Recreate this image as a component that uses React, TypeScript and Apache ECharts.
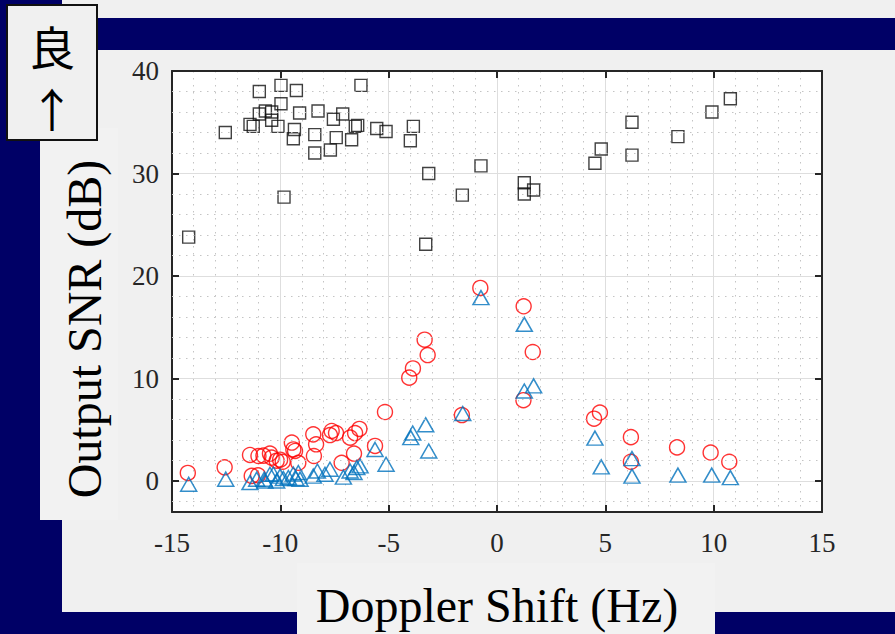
import React, { useEffect, useRef } from "react";
import * as echarts from "echarts";

// ---- data ----
const squareX = [-14.23, -12.54, -11.4, -11.25, -10.97, -10.97, -10.69, -10.4, -10.4, -10.11, -9.97, -9.97, -9.83, -9.4, -9.35, -9.26, -9.11, -8.41, -8.41, -8.26, -7.69, -7.55, -7.42, -7.12, -6.71, -6.54, -6.43, -6.28, -5.55, -5.12, -4.0, -3.86, -3.29, -3.15, -1.6, -0.74, 1.26, 1.26, 1.69, 4.52, 4.81, 6.23, 6.23, 8.35, 9.92, 10.77];
const squareY = [23.8, 34.0, 34.8, 34.6, 38.0, 35.8, 36.1, 36.0, 35.2, 34.6, 38.6, 36.8, 27.7, 33.4, 34.3, 38.1, 35.9, 33.8, 32.0, 36.1, 32.3, 35.3, 33.5, 35.8, 33.3, 34.6, 34.7, 38.6, 34.4, 34.1, 33.2, 34.6, 23.1, 30.0, 27.9, 30.75, 29.1, 28.0, 28.4, 31.0, 32.4, 35.0, 31.8, 33.6, 36.0, 37.3];

const circleX = [-14.27, -12.57, -11.4, -11.32, -11.01, -11.03, -10.78, -10.48, -10.4, -10.17, -10.01, -9.89, -9.47, -9.4, -9.32, -9.17, -8.48, -8.35, -8.45, -7.71, -7.63, -7.43, -7.17, -6.78, -6.6, -6.55, -6.35, -5.63, -5.17, -4.05, -3.88, -3.34, -3.2, -1.62, -0.77, 1.23, 1.22, 1.65, 4.48, 4.75, 6.18, 6.18, 8.31, 9.86, 10.72];
const circleY = [0.81, 1.36, 2.56, 0.52, 2.46, 0.58, 2.5, 2.7, 2.3, 2.0, 2.1, 1.9, 3.77, 3.1, 2.95, 1.8, 4.57, 3.6, 2.46, 4.5, 4.9, 4.7, 1.8, 4.25, 2.7, 4.7, 5.1, 3.44, 6.75, 10.1, 11.0, 13.8, 12.3, 6.45, 18.85, 17.06, 7.9, 12.6, 6.1, 6.7, 4.3, 1.9, 3.3, 2.8, 1.9];

const triangleX = [-14.23, -12.52, -11.4, -11.09, -10.74, -10.71, -10.48, -10.32, -10.17, -10.01, -9.86, -9.63, -9.4, -9.28, -9.17, -9.09, -8.48, -8.29, -7.94, -7.71, -7.09, -6.78, -6.6, -6.47, -6.32, -5.63, -5.12, -3.98, -3.89, -3.29, -3.15, -1.58, -0.74, 1.26, 1.26, 1.69, 4.52, 4.81, 6.23, 6.23, 8.35, 9.91, 10.77];
const triangleY = [-0.3, 0.2, -0.13, 0.2, 0.2, 0.03, 0.68, 0.7, 0.03, 0.5, 0.27, 0.36, 0.7, 0.27, 0.85, 0.2, 0.5, 1.0, 0.68, 1.17, 0.4, 1.0, 0.85, 1.33, 1.5, 3.1, 1.65, 4.25, 4.7, 5.5, 2.95, 6.6, 17.9, 15.3, 8.8, 9.3, 4.2, 1.4, 2.2, 0.5, 0.6, 0.6, 0.35];

const xRange = [-15, 15];
const yRange = [-3, 40];
const yMajorTicks = [0, 10, 20, 30, 40];
const yMinorGrid = [-2, 2, 4, 6, 8, 12, 14, 16, 18, 22, 24, 26, 28, 32, 34, 36, 38];

const xTitle = "Doppler Shift (Hz)";
const yTitle = "Output SNR (dB)";
const badgeTop = "良";
const badgeArrow = "↑";

const NAVY = "#000066";
const GRAY = "#f0f0f0";
const PANEL = "#f2f2f2";
const INK = "#262626";
const SERIF = '"Liberation Serif", "Times New Roman", serif';

const zip = (xs: number[], ys: number[]) => xs.map((x, i) => [x, ys[i]]);

export default function App() {
  const ref = useRef<HTMLDivElement>(null);

  useEffect(() => {
    document.body.style.margin = "0";
    if (!ref.current) return;
    const chart = echarts.init(ref.current, null, { renderer: "svg" });

    const tickCommon = {
      show: true,
      inside: true,
      length: 7,
      lineStyle: { color: INK, width: 2 },
    };
    const lineCommon = { show: true, onZero: false, lineStyle: { color: INK, width: 2 } };

    const option: any = {
      animation: false,
      backgroundColor: NAVY,
      grid: {
        left: 172,
        top: 71,
        width: 650,
        height: 441,
        show: true,
        backgroundColor: "#ffffff",
        borderWidth: 0,
      },
      xAxis: [
        {
          type: "value",
          position: "bottom",
          min: xRange[0],
          max: xRange[1],
          interval: 5,
          axisLine: lineCommon,
          axisTick: tickCommon,
          axisLabel: {
            color: INK,
            fontFamily: SERIF,
            fontSize: 27,
            margin: 17,
          },
          splitLine: { show: true, lineStyle: { color: "#dedede", width: 1 } },
          minorTick: { show: false, splitNumber: 5 },
          minorSplitLine: { show: true, lineStyle: { color: "#c4c4c4", width: 1, type: [1.5, 5.5] } },
        },
        {
          type: "value",
          position: "top",
          min: xRange[0],
          max: xRange[1],
          interval: 5,
          axisLine: lineCommon,
          axisTick: tickCommon,
          axisLabel: { show: false },
          splitLine: { show: false },
        },
      ],
      yAxis: [
        {
          type: "value",
          position: "left",
          min: yRange[0],
          max: yRange[1],
          splitNumber: 5,
          axisLine: lineCommon,
          axisTick: tickCommon,
          axisLabel: {
            color: INK,
            fontFamily: SERIF,
            fontSize: 27,
            margin: 13,
            formatter: (v: number) => (yMajorTicks.includes(v) ? String(v) : ""),
          },
          splitLine: { show: true, lineStyle: { color: "#dedede", width: 1 } },
        },
        {
          type: "value",
          position: "right",
          min: yRange[0],
          max: yRange[1],
          splitNumber: 5,
          axisLine: lineCommon,
          axisTick: tickCommon,
          axisLabel: { show: false },
          splitLine: { show: false },
        },
      ],
      series: [
        {
          type: "scatter",
          name: "grid",
          data: [],
          z: 1,
          silent: true,
          markLine: {
            silent: true,
            symbol: "none",
            label: { show: false },
            lineStyle: { color: "#c4c4c4", width: 1, type: [1.5, 5.5] },
            data: yMinorGrid.map((v) => ({ yAxis: v })),
          },
        },
        {
          type: "scatter",
          name: "squares",
          symbol: "rect",
          symbolSize: 12,
          itemStyle: { color: "rgba(0,0,0,0)", borderColor: "#111111", borderWidth: 1.4 },
          data: zip(squareX, squareY),
        },
        {
          type: "scatter",
          name: "circles",
          symbol: "circle",
          symbolSize: 15,
          itemStyle: { color: "rgba(0,0,0,0)", borderColor: "#ff0000", borderWidth: 1.4 },
          data: zip(circleX, circleY),
        },
        {
          type: "scatter",
          name: "triangles",
          symbol: "triangle",
          symbolSize: [16, 14],
          itemStyle: { color: "rgba(0,0,0,0)", borderColor: "#0072bd", borderWidth: 1.5 },
          data: zip(triangleX, triangleY),
        },
      ],
      graphic: [
        { type: "rect", z: -10, silent: true, shape: { x: 62, y: 0, width: 833, height: 612 }, style: { fill: GRAY } },
        { type: "rect", z: -9, silent: true, shape: { x: 40, y: 128, width: 78, height: 392 }, style: { fill: PANEL } },
        { type: "rect", z: -9, silent: true, shape: { x: 297, y: 563, width: 418, height: 71 }, style: { fill: PANEL } },
        { type: "rect", z: -8, silent: true, shape: { x: 97, y: 18, width: 798, height: 32 }, style: { fill: NAVY } },
        {
          type: "rect",
          z: 50,
          silent: true,
          shape: { x: 7, y: 5, width: 90, height: 135 },
          style: { fill: GRAY, stroke: "#111111", lineWidth: 2 },
        },
        {
          type: "text",
          z: 51,
          x: 52,
          y: 45,
          style: {
            text: badgeTop,
            font: '46px "Noto Sans CJK JP"',
            fill: "#000",
            align: "center",
            verticalAlign: "middle",
          },
        },
        {
          type: "text",
          z: 51,
          x: 52,
          y: 107,
          style: {
            text: badgeArrow,
            font: '46px "Noto Sans CJK JP"',
            fill: "#000",
            align: "center",
            verticalAlign: "middle",
          },
        },
        {
          type: "text",
          z: 51,
          x: 84,
          y: 329,
          rotation: Math.PI / 2,
          style: {
            text: yTitle,
            font: `48px ${SERIF}`,
            fill: "#000",
            align: "center",
            verticalAlign: "middle",
          },
        },
        {
          type: "text",
          z: 51,
          x: 497,
          y: 605,
          style: {
            text: xTitle,
            font: `48px ${SERIF}`,
            fill: "#000",
            align: "center",
            verticalAlign: "middle",
          },
        },
      ],
    };

    chart.setOption(option);
    return () => chart.dispose();
  }, []);

  return (
    <div
      ref={ref}
      style={{ position: "fixed", left: 0, top: 0, width: 895, height: 634 }}
    />
  );
}
